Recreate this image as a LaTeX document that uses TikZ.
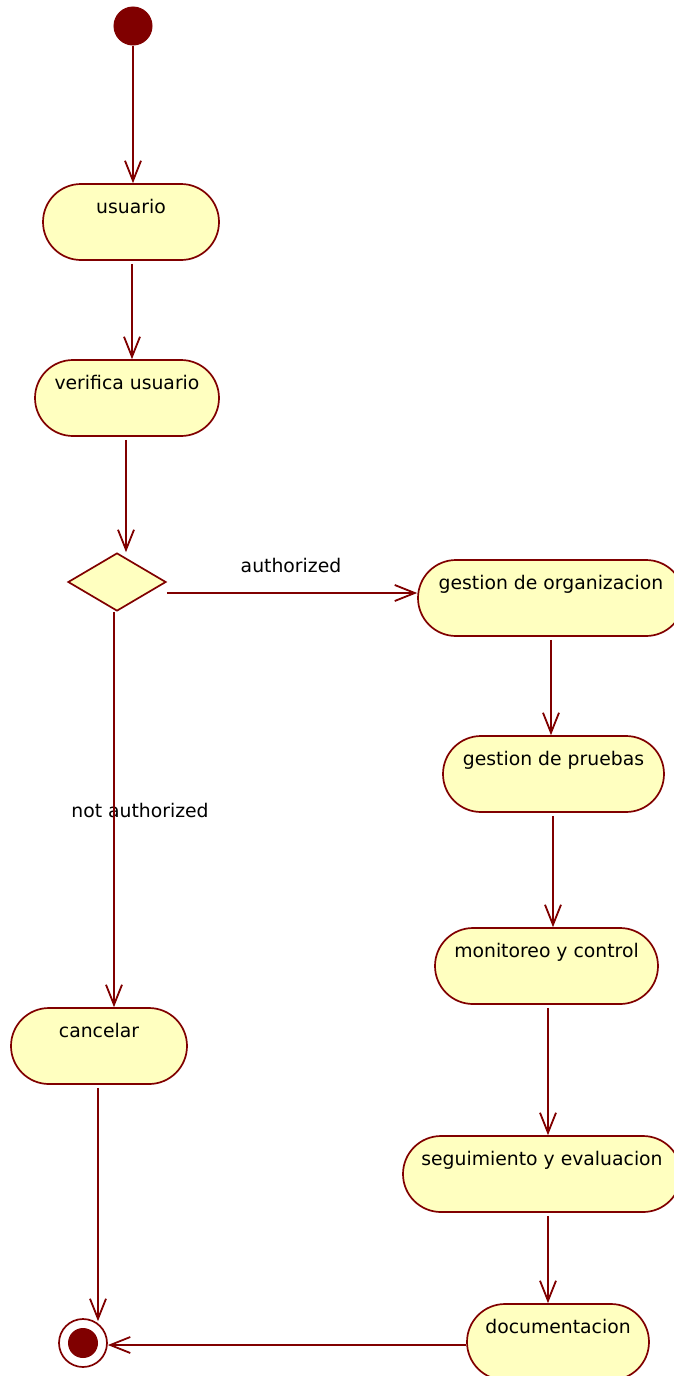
\documentclass[tikz,border=0pt]{standalone}
\usepackage{fontspec}
\setmainfont{DejaVu Sans}
\usetikzlibrary{arrows.meta,shapes.geometric}
\definecolor{umlred}{RGB}{128,0,0}
\definecolor{umlfill}{RGB}{255,255,192}
\tikzset{
  act/.style={draw=umlred, fill=umlfill, line width=1.7pt, rectangle,
    rounded corners=38pt, minimum height=76pt, inner sep=0pt,
    text height=12pt, text depth=30pt, font=\fontsize{18.8}{20}\selectfont},
  flow/.style={draw=umlred, line width=1.8pt, -{Straight Barb[length=20pt,width=16pt,line width=1.8pt]}},
  guard/.style={font=\fontsize{18.8}{20}\selectfont, inner sep=0pt},
}
\begin{document}
\begin{tikzpicture}[x=1pt,y=-1pt]
\useasboundingbox (0,0) rectangle (674,1376);

% initial and final states
\node[circle, draw=umlred, fill=umlred, line width=1pt, minimum size=38pt, inner sep=0pt] (start) at (133,26) {};
\node[circle, draw=umlred, fill=white, line width=1.7pt, minimum size=48pt, inner sep=0pt] (end) at (83,1343) {};
\node[circle, fill=umlred, minimum size=30pt, inner sep=0pt] (endcore) at (83,1343) {};

% activities
\node[act, minimum width=176pt] (usuario) at (131,222) {usuario};
\node[act, minimum width=184pt] (verifica) at (127,398) {verifica usuario};
\node[diamond, draw=umlred, fill=umlfill, line width=1.7pt, minimum width=98pt, minimum height=58pt, inner sep=0pt, aspect=1.7] (dec) at (117,582) {};
\node[act, minimum width=266pt] (org) at (551,598) {gestion de organizacion};
\node[act, minimum width=221pt] (pruebas) at (553.5,774) {gestion de pruebas};
\node[act, minimum width=223pt] (monitoreo) at (546.5,966) {monitoreo y control};
\node[act, minimum width=278pt] (seguimiento) at (542,1174) {seguimiento y evaluacion};
\node[act, minimum width=182pt] (doc) at (558,1342) {documentacion};
\node[act, minimum width=176pt] (cancelar) at (99,1046) {cancelar};

% guards
\node[guard] (lauth) at (291,565) {authorized};
\node[guard] (lnot) at (140,810) {not authorized};

% control flows
\draw[flow] (start.south) -- (start.south |- usuario.north);
\draw[flow] ([xshift=1pt,yshift=-3pt]usuario.south) -- ([xshift=1pt]usuario.south |- verifica.north);
\draw[flow] ([xshift=-1pt,yshift=-3pt]verifica.south) -- ([xshift=-1pt]verifica.south |- dec.north);
\draw[flow] ([yshift=-11pt]dec.east) -- ([yshift=-11pt]dec.east -| org.west);
\draw[flow] ([xshift=-3pt]dec.south) -- ([xshift=-3pt]dec.south |- cancelar.north);
\draw[flow] ([xshift=-1pt,yshift=-3pt]cancelar.south) -- ([xshift=-1pt,yshift=-3pt]cancelar.south |- end.north);
\draw[flow] ([yshift=-3pt]org.south) -- (org.south |- pruebas.north);
\draw[flow] ([xshift=-0.5pt,yshift=-3pt]pruebas.south) -- ([xshift=-0.5pt]pruebas.south |- monitoreo.north);
\draw[flow] ([xshift=1.5pt,yshift=-3pt]monitoreo.south) -- ([xshift=1.5pt]monitoreo.south |- seguimiento.north);
\draw[flow] ([xshift=6pt,yshift=-3pt]seguimiento.south) -- ([xshift=6pt]seguimiento.south |- doc.north);
\draw[flow] ([yshift=-3pt]doc.west) -- ([yshift=-3pt]doc.west -| end.east);
\end{tikzpicture}
\end{document}
